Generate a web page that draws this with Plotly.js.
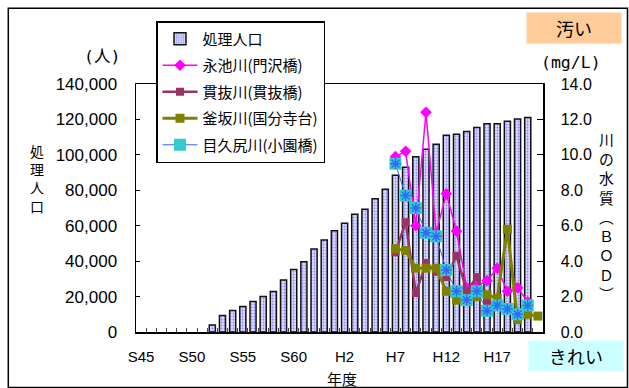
<!DOCTYPE html>
<html>
<head>
<meta charset="utf-8">
<script src="https://cdn.plot.ly/plotly-3.0.1.min.js"></script>
<style>
html,body{margin:0;padding:0;background:#fff;}
#chart{width:629px;height:388px;}
</style>
</head>
<body>
<div id="chart"></div>
<script>
// ---- data ----
const categories = ['S45','S46','S47','S48','S49','S50','S51','S52','S53','S54',
  'S55','S56','S57','S58','S59','S60','S61','S62','S63','H1',
  'H2','H3','H4','H5','H6','H7','H8','H9','H10','H11',
  'H12','H13','H14','H15','H16','H17','H18','H19','H20','H21'];
const tickLabelEvery = 5;

const population = [null,null,null,null,null,null,null,4000,9300,12100,
  14400,17200,20000,22800,29400,35300,39600,46900,52000,57100,
  61400,66500,69300,75200,80600,88500,93000,98900,103200,106000,
  111100,111700,113200,115500,117500,117500,119000,120300,121100,null];

const nagaike = [null,null,null,null,null,null,null,null,null,null,
  null,null,null,null,null,null,null,null,null,null,
  null,null,null,null,null,9.9,10.2,6.0,12.4,5.6,
  7.8,5.7,2.5,2.6,2.9,3.6,2.3,2.5,1.7,null];

const kannuki = [null,null,null,null,null,null,null,null,null,null,
  null,null,null,null,null,null,null,null,null,null,
  null,null,null,null,null,4.5,6.2,2.2,3.9,3.4,
  3.1,4.3,2.3,3.1,1.7,1.5,1.3,1.0,1.4,null];

const kamasaka = [null,null,null,null,null,null,null,null,null,null,
  null,null,null,null,null,null,null,null,null,null,
  null,null,null,null,null,4.7,4.6,3.6,3.6,3.6,
  2.3,1.8,1.8,2.0,2.1,1.9,5.8,0.7,1.0,0.9];

const mekujiri = [null,null,null,null,null,null,null,null,null,null,
  null,null,null,null,null,null,null,null,null,null,
  null,null,null,null,null,9.5,7.7,7.0,5.6,5.4,
  3.5,2.3,1.8,2.3,1.2,1.5,1.3,1.0,1.5,null];

const seriesNames = ['処理人口','永池川(門沢橋)','貫抜川(貫抜橋)','釜坂川(国分寺台)','目久尻川(小園橋)'];

// ---- geometry helpers (pixel -> paper) ----
const W = 629, H = 388;
const M = {l:136, r:86, t:84, b:56};
const PW = W - M.l - M.r, PH = H - M.t - M.b;
const px = x => (x - M.l) / PW;
const py = y => (H - M.b - y) / PH;

const CJK = '"Noto Sans CJK JP", "Noto Sans", sans-serif';
const NUM = '"Liberation Sans", Arial, sans-serif';

const ticktext = categories.map((c,i) => i % tickLabelEvery === 0 ? c : '');

const traces = [
  {type:'bar', name:seriesNames[0], x:categories, y:population, yaxis:'y',
   width:0.6, legendgroup:'g0',
   marker:{color:'#ccccff', line:{color:'#111', width:1.5},
           pattern:{shape:'.', fgcolor:'#8c8cff', bgcolor:'#dadaff', size:3, solidity:0.3}}},
  {type:'scatter', mode:'lines+markers', name:seriesNames[1], x:categories, y:nagaike, yaxis:'y2',
   legendgroup:'g1',
   line:{color:'#ff00ff', width:1.5}, marker:{symbol:'diamond', size:9, color:'#ff00ff'}},
  {type:'scatter', mode:'lines+markers', name:seriesNames[2], x:categories, y:kannuki, yaxis:'y2',
   legendgroup:'g2',
   line:{color:'#993366', width:2.5}, marker:{symbol:'square', size:8, color:'#993366'}},
  {type:'scatter', mode:'lines+markers', name:seriesNames[3], x:categories, y:kamasaka, yaxis:'y2',
   legendgroup:'g3',
   line:{color:'#808000', width:3}, marker:{symbol:'square', size:9, color:'#808000'}},
  {type:'scatter', mode:'lines+markers', name:seriesNames[4], x:categories, y:mekujiri, yaxis:'y2',
   legendgroup:'g4',
   line:{color:'#3366ff', width:1}, marker:{symbol:'square', size:12, color:'#33cccc'}},
  {type:'scatter', mode:'markers', name:seriesNames[4], x:categories, y:mekujiri, yaxis:'y2',
   legendgroup:'g4', showlegend:false, hoverinfo:'skip',
   marker:{symbol:'asterisk-open', size:9, color:'#3366ff', line:{color:'#3366ff', width:1.5}}}
];

const layout = {
  width:W, height:H, autosize:false,
  margin:{l:M.l, r:M.r, t:M.t, b:M.b, pad:0},
  paper_bgcolor:'#fff', plot_bgcolor:'#fff',
  showlegend:true, bargap:0.4,
  xaxis:{type:'category', categoryorder:'array', categoryarray:categories,
    range:[-0.5, categories.length-0.5],
    tickmode:'array', tickvals:categories, ticktext:ticktext, tickangle:0,
    tickson:'boundaries', ticks:'inside', ticklen:4, tickcolor:'#444',
    showline:true, linecolor:'#000', linewidth:1.5, mirror:true,
    showgrid:false, zeroline:false,
    tickfont:{family:'"Liberation Sans Narrow", "Liberation Sans", Arial, sans-serif', size:15, color:'#000'},
    ticklabelstandoff:10, fixedrange:true},
  yaxis:{range:[0,140000], dtick:20000, tick0:0, tickformat:',d',
    ticks:'inside', ticklen:4, tickcolor:'#000',
    showline:true, linecolor:'#000', linewidth:1.5, showgrid:false, zeroline:false,
    tickfont:{family:NUM, size:17, color:'#000'}, ticklabelstandoff:14, fixedrange:true},
  yaxis2:{range:[0,14], dtick:2, tick0:0, tickformat:'.1f', overlaying:'y', side:'right',
    ticks:'inside', ticklen:6, tickcolor:'#000',
    showline:true, linecolor:'#000', linewidth:1.5, showgrid:false, zeroline:false,
    tickfont:{family:NUM, size:16, color:'#000'}, ticklabelstandoff:13, fixedrange:true},
  legend:{x:px(156), y:py(21), xanchor:'left', yanchor:'top',
    bgcolor:'#fff', bordercolor:'#000', borderwidth:1.5,
    font:{family:CJK, size:15, color:'#000'},
    traceorder:'grouped', tracegroupgap:4, itemwidth:35},
  shapes:[
    {type:'rect', xref:'paper', yref:'paper', x0:px(8.3), x1:px(627.5), y0:py(387.5), y1:py(8.3),
     line:{color:'#000', width:1.5}, fillcolor:'rgba(0,0,0,0)', layer:'above'}
  ],
  annotations:[
    {text:'汚い', xref:'paper', yref:'paper', x:px(574), y:py(27.7), xanchor:'center', yanchor:'middle',
     showarrow:false, bgcolor:'#ffcc99', width:94, height:30, borderpad:0,
     font:{family:CJK, size:18, color:'#000'}},
    {text:'きれい', xref:'paper', yref:'paper', x:px(575.8), y:py(355.7), xanchor:'center', yanchor:'middle',
     showarrow:false, bgcolor:'#ccffff', width:94, height:30, borderpad:0,
     font:{family:CJK, size:18, color:'#000'}},
    {text:'(mg/L)', xref:'paper', yref:'paper', x:px(571), y:py(62.3), xanchor:'center', yanchor:'middle',
     showarrow:false, font:{family:'"DejaVu Sans Mono", monospace', size:16.5, color:'#000'}},
    {text:'(人)', xref:'paper', yref:'paper', x:px(101.7), y:py(56.7), xanchor:'center', yanchor:'middle',
     showarrow:false, font:{family:'"DejaVu Sans Mono", "Noto Sans CJK JP", monospace', size:16.5, color:'#000'}},
    {text:'処<br>理<br>人<br>口', xref:'paper', yref:'paper', x:px(37), y:py(178), xanchor:'center', yanchor:'middle',
     showarrow:false, font:{family:CJK, size:14, color:'#000'}},
    {text:'川<br>の<br>水<br>質<br>︵<br>Ｂ<br>Ｏ<br>Ｄ<br>︶', xref:'paper', yref:'paper', x:px(606), y:py(216),
     xanchor:'center', yanchor:'middle', showarrow:false, font:{family:CJK, size:14.8, color:'#000'}},
    {text:'年度', xref:'paper', yref:'paper', x:px(341.7), y:py(378), xanchor:'center', yanchor:'middle',
     showarrow:false, font:{family:CJK, size:15, color:'#000'}}
  ]
};

Plotly.newPlot('chart', traces, layout, {displayModeBar:false, staticPlot:true});
</script>
</body>
</html>
